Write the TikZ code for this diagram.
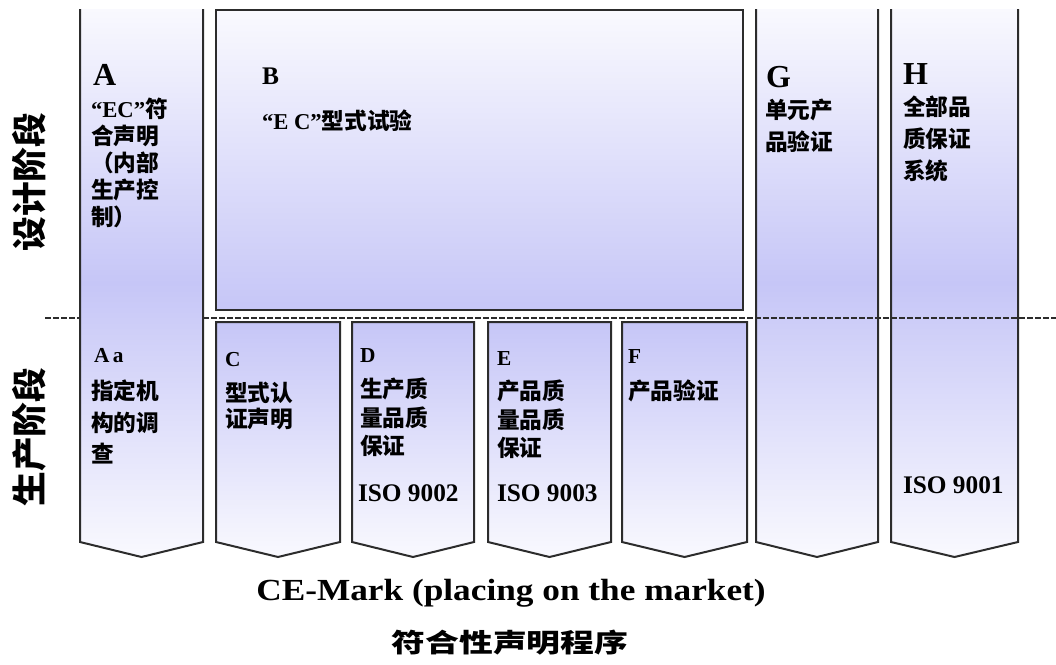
\documentclass[tikz,border=0pt]{standalone}
\usepackage{fontspec}
\setmainfont{Liberation Serif}
\newfontfamily\zh{Noto Sans CJK SC}
\newcommand{\latn}{\rmfamily}
\usetikzlibrary{positioning}
\definecolor{cLine}{HTML}{2C2C2C}
\definecolor{cLav}{HTML}{C6C6F7}
\definecolor{cPale}{HTML}{F9F9FE}

\begin{document}
\begin{tikzpicture}[x=0.75pt,y=-0.75pt,
    every node/.style={inner sep=0pt,outer sep=0pt},
    colline/.style={draw=cLine,line width=1.5pt,line join=miter},
    hd/.style={anchor=north west,font=\bfseries\fontsize{#1}{#1}\selectfont},
    hd/.default=24pt,
    hds/.style={anchor=north west,font=\bfseries\fontsize{16}{16}\selectfont},
    bd/.style={anchor=north west,align=left,font=\zh\bfseries\fontsize{17}{#1}\selectfont},
    bd/.default=20.3pt,
    iso/.style={anchor=west,font=\bfseries\fontsize{19}{19}\selectfont},
    side/.style={rotate=90,font=\zh\bfseries\fontsize{26}{26}\selectfont}]
  \useasboundingbox (0,0) rectangle (1056,664);

  \foreach \xa/\xb in {80/203,756/878,891/1018} {
    \shade[top color=cPale,bottom color=cPale,middle color=cLav]
      (\xa,9) -- (\xa,542) -- ({(\xa+\xb)/2},557) -- (\xb,542) -- (\xb,9) -- cycle;
    \draw[colline] (\xa,9) -- (\xa,542) -- ({(\xa+\xb)/2},557) -- (\xb,542) -- (\xb,9);
  }
  \foreach \xa/\xb in {216/340,352/474,488/611,622/747} {
    \draw[colline,top color=cLav,bottom color=cPale]
      (\xa,322) -- (\xa,542) -- ({(\xa+\xb)/2},557) -- (\xb,542) -- (\xb,322) -- cycle;
  }
  \draw[colline,top color=cPale,bottom color=cLav] (216,10) rectangle (743,310);

  \draw[cLine,line width=1.2pt,dash pattern=on 4.5pt off 1.5pt] (45,318) -- (80,318);
  \draw[cLine,line width=1.2pt,dash pattern=on 4.5pt off 1.5pt] (203,318) -- (1056,318);

  \node[side] (sd1) at (29,182) {设计阶段};
  \node[side] (sd2) at (29,437) {生产阶段};

  \node[hd] (hA) at (93,64) {A};
  \node[bd] (tA) at (91,98) {{\latn “EC”}符\\合声明\\（内部\\生产控\\制）};
  \node[hds] (hAa) at (94,348) {A\,a};
  \node[bd=23.6pt] (tAa) at (91,380) {指定机\\构的调\\查};

  \node[hd=19pt] (hB) at (262,68) {B};
  \node[bd] (tB) at (262,110) {{\latn “E C”}型式试验};

  \node[hds] (hC) at (225,352) {C};
  \node[bd=19.5pt] (tC) at (225,382) {型式认\\证声明};
  \node[hds] (hD) at (360,349) {D};
  \node[bd=21.4pt] (tD) at (360,378) {生产质\\量品质\\保证};
  \node[iso] (iD) at (358,493) {ISO 9002};
  \node[hds] (hE) at (497,352) {E};
  \node[bd=21.4pt] (tE) at (497,380) {产品质\\量品质\\保证};
  \node[iso] (iE) at (497,493) {ISO 9003};
  \node[hds] (hF) at (628,350) {F};
  \node[bd] (tF) at (628,380) {产品验证};

  \node[hd] (hG) at (766,66) {G};
  \node[bd=24pt] (tG) at (765,99) {单元产\\品验证};
  \node[hd] (hH) at (903,64) {H};
  \node[bd=24pt] (tH) at (903,96) {全部品\\质保证\\系统};
  \node[iso] (iH) at (903,485) {ISO 9001};

  \node[anchor=base,xscale=1.15,font=\bfseries\fontsize{23}{23}\selectfont] (mark) at (511,600) {CE-Mark (placing on the market)};
  \node[anchor=base,xscale=1.3,font=\zh\bfseries\fontsize{19.5}{19.5}\selectfont] (proc) at (510,652) {符合性声明程序};
\end{tikzpicture}
\end{document}
